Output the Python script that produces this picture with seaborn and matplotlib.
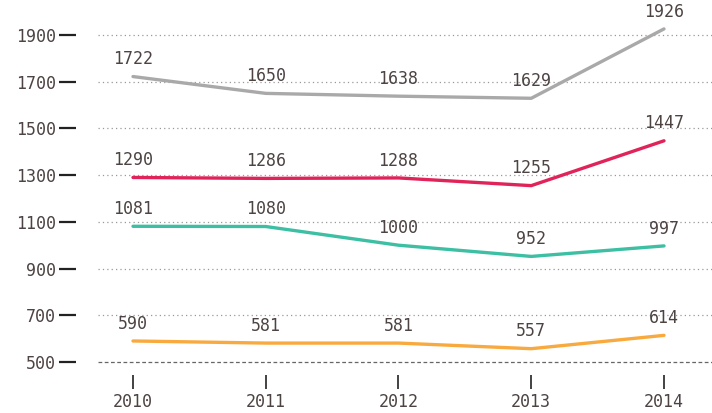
import matplotlib
matplotlib.use("Agg")
import matplotlib.pyplot as plt
import seaborn as sns
import pandas as pd

years = [2010, 2011, 2012, 2013, 2014]
gray_vals = [1722, 1650, 1638, 1629, 1926]
red_vals = [1290, 1286, 1288, 1255, 1447]
teal_vals = [1081, 1080, 1000, 952, 997]
orange_vals = [590, 581, 581, 557, 614]
y_ticks = [500, 700, 900, 1100, 1300, 1500, 1700, 1900]

series = {"gray": gray_vals, "red": red_vals, "teal": teal_vals, "orange": orange_vals}
colors = {"gray": "#a9a9a9", "red": "#e0245a", "teal": "#3dbfa3", "orange": "#f9aa3e"}

rows = []
for name, vals in series.items():
    for y, v in zip(years, vals):
        rows.append({"year": y, "value": v, "series": name})
df = pd.DataFrame(rows)

sns.set_theme(style="white")
plt.rcParams["font.family"] = ["DejaVu Sans Mono", "DejaVu Sans"]
txt = "#4d4343"

W, H = 712, 413
fig = plt.figure(figsize=(W / 100, H / 100), dpi=100)
ax = fig.add_axes([98 / W, (H - 362) / H, (W - 98) / W, 362 / H])

sns.lineplot(data=df, x="year", y="value", hue="series", palette=colors,
             linewidth=2.4, legend=False, ax=ax, solid_capstyle="round")

for name, vals in series.items():
    for y, v in zip(years, vals):
        ax.annotate(str(v), (y, v), xytext=(0, 12.5), textcoords="offset points",
                    ha="center", va="center", fontsize=12, color=txt)

ax.set_xlim(2014 - (664 - 98) / 132.75, 2014 + (712 - 664) / 132.75)
ax.set_ylim(500, 1900 + 35 * 200 / 46.75)

for t in y_ticks[1:]:
    ax.axhline(t, color="#999999", linestyle=(0, (1, 2.5)), linewidth=0.9, zorder=0)
ax.axhline(500, color="#666666", linestyle=(0, (3, 2)), linewidth=0.9, zorder=0, clip_on=False)

for s in ["top", "right"]:
    ax.spines[s].set_visible(False)
ax.spines["left"].set_position(("outward", 16))
ax.spines["bottom"].set_position(("outward", 9))
ax.spines["left"].set_visible(False)
ax.spines["bottom"].set_visible(False)

ax.set_xticks(years)
ax.set_xticklabels([str(y) for y in years])
ax.set_yticks(y_ticks)
ax.set_yticklabels([str(t) for t in y_ticks])
ax.tick_params(axis="y", length=12.2, width=1.6, color="#222222", pad=2,
               labelsize=12, labelcolor=txt, left=True)
ax.tick_params(axis="x", length=10, width=1.2, color="#222222", pad=3,
               labelsize=12, labelcolor=txt, bottom=True)
ax.set_xlabel("")
ax.set_ylabel("")
ax.grid(False)
ax.patch.set_alpha(0)

fig.savefig("out.png", dpi=100)
